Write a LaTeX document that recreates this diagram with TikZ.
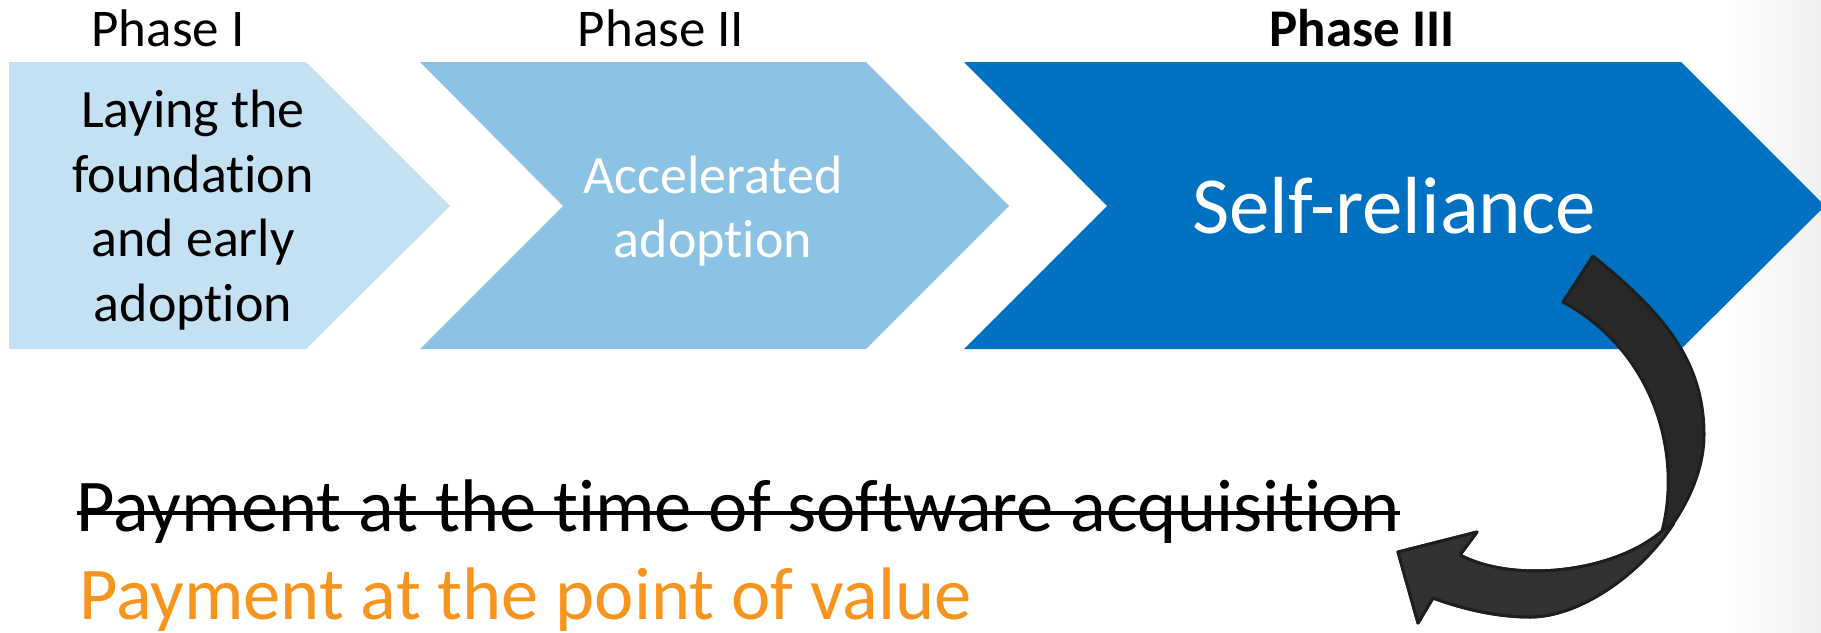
\documentclass[tikz,border=0pt]{standalone}
\usepackage{fontspec}
\setmainfont{Carlito}[Ligatures=NoCommon]
\usetikzlibrary{calc}
\definecolor{cOne}{HTML}{C3E1F2}
\definecolor{cTwo}{HTML}{8CC3E5}
\definecolor{cThree}{HTML}{0070C0}
\definecolor{cOrange}{HTML}{F7941D}
\definecolor{arrowfill}{HTML}{282828}
\definecolor{arrowfillb}{HTML}{323232}
\definecolor{arrowline}{HTML}{1E1E1E}
\begin{document}
\begin{tikzpicture}[x=1pt,y=-1pt,
  phaselabel/.style={inner sep=0pt, anchor=base, font=\fontsize{53}{62}\selectfont},
  chevtext/.style={inner sep=0pt, align=center, anchor=center, font=\fontsize{54}{64.5}\selectfont},
  bottomtext/.style={inner sep=0pt, anchor=base west, font=\fontsize{74.5}{90}\selectfont},
  arrowpart/.style={draw=arrowline, line width=3pt, line join=round}]
\useasboundingbox (0,0) rectangle (1821,632);
\shade[left color=white,right color=black!6] (1725,0) rectangle (1821,632);
% chevrons
\fill[cOne] (9,62) -- (306,62) -- (450,206) -- (306,349) -- (9,349) -- cycle;
\fill[cTwo] (420,62) -- (866,62) -- (1009,206) -- (866,349) -- (420,349) -- (563,206) -- cycle;
\fill[cThree] (964,62) -- (1681,62) -- (1825,206) -- (1681,349) -- (964,349) -- (1107,206) -- cycle;
% phase labels
\node[phaselabel] (p1) at (168,46) {Phase I};
\node[phaselabel] (p2) at (661,46) {Phase II};
\node[phaselabel, font=\fontsize{53}{62}\selectfont\bfseries] (p3) at (1362,46) {Phase III};
% chevron texts
\node[chevtext] (t1) at (193,210) {Laying the\\foundation\\and early\\adoption};
\node[chevtext, text=white] (t2) at (713,211) {Accelerated\\adoption};
\node[inner sep=0pt, anchor=base, text=white, font=\fontsize{81}{96}\selectfont] (t3) at (1394,233) {Self-reliance};
% bottom texts
\node[bottomtext] (old) at (76.5,531) {Payment at the time of software acquisition};
\coordinate (strikey) at (0,513);
\draw[line width=4pt] (old.west |- strikey) -- (old.east |- strikey);
\node[bottomtext, text=cOrange] (new) at (79,619) {Payment at the point of value};
% curved arrow
\coordinate (tailIn) at (1563,302);
\coordinate (tailOut) at (1593,256);
\coordinate (pinch) at (1662,531);
\coordinate (pinchOut) at (1673.5,523.8);
\coordinate (notchOut) at (1433,598);
\coordinate (notchIn) at (1460,555);
\coordinate (headTip) at (1398,552);
\coordinate (headUp) at (1477,532);
\coordinate (headLow) at (1418,623);
\filldraw[arrowpart, fill=arrowfill]
 (tailIn) -- (tailOut)
 .. controls (1663,313) and (1704,360) .. (1704,435)
 .. controls (1704,520) and (1605,617) .. (1530,617)
 .. controls (1495,617) and (1460,608) .. (notchOut)
 -- (headLow) -- (headTip) -- (headUp) -- (notchIn)
 .. controls (1515,584) and (1615,572) .. (pinch)
 .. controls (1682,455) and (1655,352) .. (tailIn)
 -- cycle;
\filldraw[arrowpart, fill=arrowfillb]
 (pinch) -- (pinchOut)
 .. controls (1639.5,576) and (1578.75,617) .. (1530,617)
 .. controls (1495,617) and (1460,608) .. (notchOut)
 -- (headLow) -- (headTip) -- (headUp) -- (notchIn)
 .. controls (1515,584) and (1615,572) .. (pinch)
 -- cycle;
\end{tikzpicture}
\end{document}
